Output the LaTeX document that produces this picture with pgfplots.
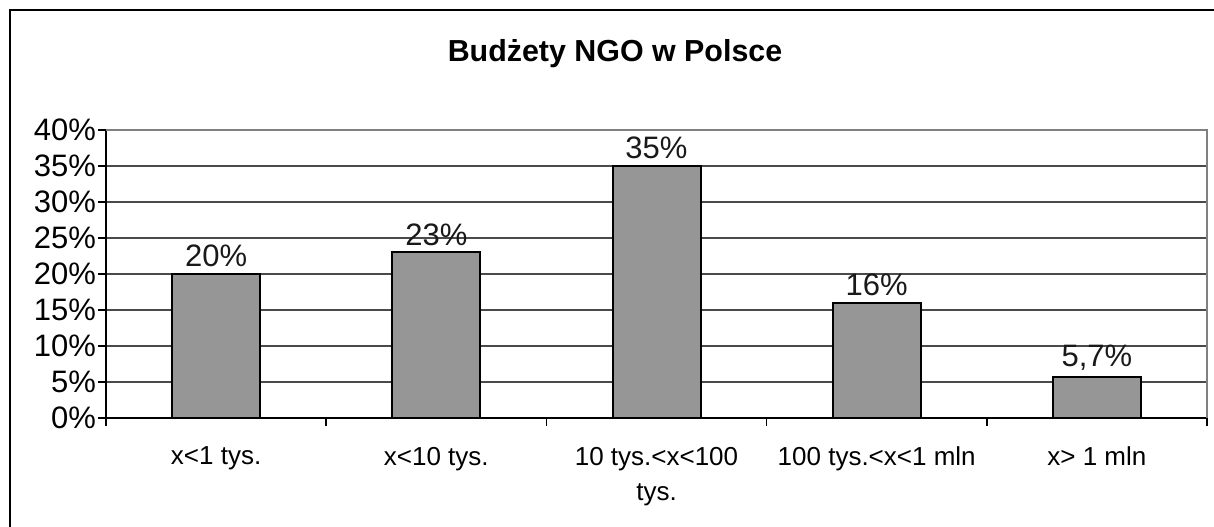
\documentclass[border=0pt]{standalone}
\usepackage{pgfplots}
\pgfplotsset{compat=1.18}
\usepackage{fontspec}
\setmainfont{Liberation Sans}
\definecolor{barfill}{HTML}{969696}
\definecolor{gridc}{HTML}{4A4A4A}
\begin{document}
\begin{tikzpicture}[x=1pt,y=1pt]
\path[use as bounding box, clip] (0,0) rectangle (607,263);
% outer chart frame (cut at right and bottom)
\draw[line width=1pt] (5,-20) -- (5,258) -- (640,258);
\node[anchor=base, font=\fontsize{15.2}{18}\selectfont\bfseries] at (307.5,232) {Budżety NGO w Polsce};
\begin{axis}[
  at={(53pt,54pt)}, anchor=south west,
  scale only axis, width=550.5pt, height=144pt,
  xmin=0.5, xmax=5.5, ymin=0, ymax=40,
  axis x line*=bottom, axis y line*=left,
  axis line style={black, line width=1pt},
  /pgf/number format/assume math mode=true,
  ytick={0,5,...,40},
  yticklabel={\pgfmathprintnumber{\tick}\%},
  y tick label style={font=\fontsize{15.5}{18}\selectfont, xshift=2.5pt},
  xtick={1,...,5},
  xticklabels={x<1 tys., x<10 tys., 10 tys.<x<100\\tys., 100 tys.<x<1 mln, x> 1 mln},
  x tick label style={font=\fontsize{13}{17.5}\selectfont, align=center, yshift=-7pt},
  major x tick style={draw=none},
  minor xtick={0.5,1.5,...,5.5},
  tick align=outside,
  major tick length=4pt, minor tick length=4pt,
  tick style={black, line width=0.8pt},
  ymajorgrids,
  grid style={gridc, line width=0.8pt},
  clip=false,
]
\addplot[ybar, bar width=44pt, fill=barfill, draw=black, line width=1pt,
  nodes near coords={\pgfmathprintnumber[use comma]{\pgfplotspointmeta}\%},
  nodes near coords style={font=\fontsize{15.5}{18}\selectfont, text=black!90, anchor=south, inner sep=3pt}]
  coordinates {(1,20) (2,23) (3,35) (4,16) (5,5.7)};
\draw[gray, line width=1pt] (rel axis cs:0,1) -- (rel axis cs:1,1) -- (rel axis cs:1,0);
\end{axis}
\end{tikzpicture}
\end{document}
